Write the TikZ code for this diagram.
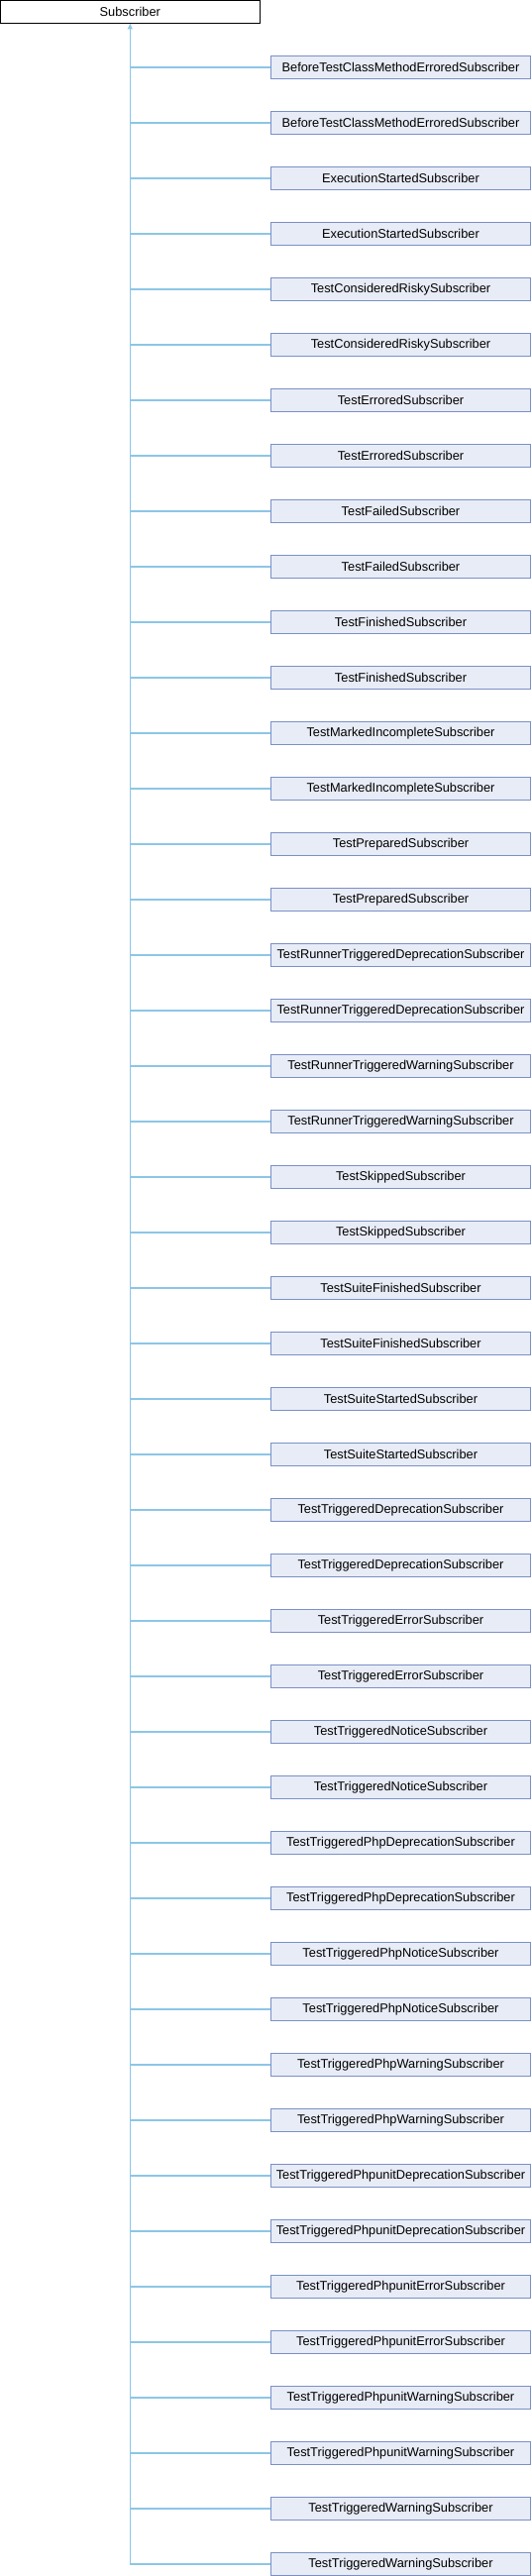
\documentclass[tikz,border=0pt]{standalone}
\usepackage{fontspec}
\setmainfont{Liberation Sans}
\usetikzlibrary{arrows.meta}
\definecolor{edgecol}{HTML}{8CC6E6}
\definecolor{nodefill}{HTML}{E8ECF6}
\definecolor{nodeline}{HTML}{7A90C6}
\tikzset{
  basebox/.style={draw=black, fill=white, line width=0.8pt, minimum width=261.5*0.75pt, minimum height=22.8*0.75pt, inner sep=0pt, font=\fontsize{9.6pt}{11pt}\selectfont},
  childbox/.style={draw=nodeline, fill=nodefill, line width=0.8pt, minimum width=261.5*0.75pt, minimum height=22.6*0.75pt, inner sep=0pt, font=\fontsize{9.6pt}{11pt}\selectfont},
  edgeline/.style={draw=edgecol, line width=0.8pt},
}
\begin{document}
\begin{tikzpicture}[x=0.75pt, y=-0.75pt]
\useasboundingbox (0,0) rectangle (536,2600);
\node[basebox] (top) at (131.3,12) {Subscriber};
\foreach \nm [count=\k from 0] in {
BeforeTestClassMethodErroredSubscriber,
ExecutionStartedSubscriber,
TestConsideredRiskySubscriber,
TestErroredSubscriber,
TestFailedSubscriber,
TestFinishedSubscriber,
TestMarkedIncompleteSubscriber,
TestPreparedSubscriber,
TestRunnerTriggeredDeprecationSubscriber,
TestRunnerTriggeredWarningSubscriber,
TestSkippedSubscriber,
TestSuiteFinishedSubscriber,
TestSuiteStartedSubscriber,
TestTriggeredDeprecationSubscriber,
TestTriggeredErrorSubscriber,
TestTriggeredNoticeSubscriber,
TestTriggeredPhpDeprecationSubscriber,
TestTriggeredPhpNoticeSubscriber,
TestTriggeredPhpWarningSubscriber,
TestTriggeredPhpunitDeprecationSubscriber,
TestTriggeredPhpunitErrorSubscriber,
TestTriggeredPhpunitWarningSubscriber,
TestTriggeredWarningSubscriber}{
  \pgfmathsetmacro{\ya}{68+112*\k}
  \pgfmathsetmacro{\yb}{124+112*\k}
  \node[childbox] (a\k) at (404.5,\ya) {\nm};
  \node[childbox] (b\k) at (404.5,\yb) {\nm};
  \draw[edgeline] (a\k.west) -| (top.south);
  \draw[edgeline] (b\k.west) -| (top.south);
}
\draw[edgeline, -{Triangle[width=3.6pt,length=4pt]}, fill=edgecol] ([yshift=-8*0.75pt]top.south) -- (top.south);
\end{tikzpicture}
\end{document}
